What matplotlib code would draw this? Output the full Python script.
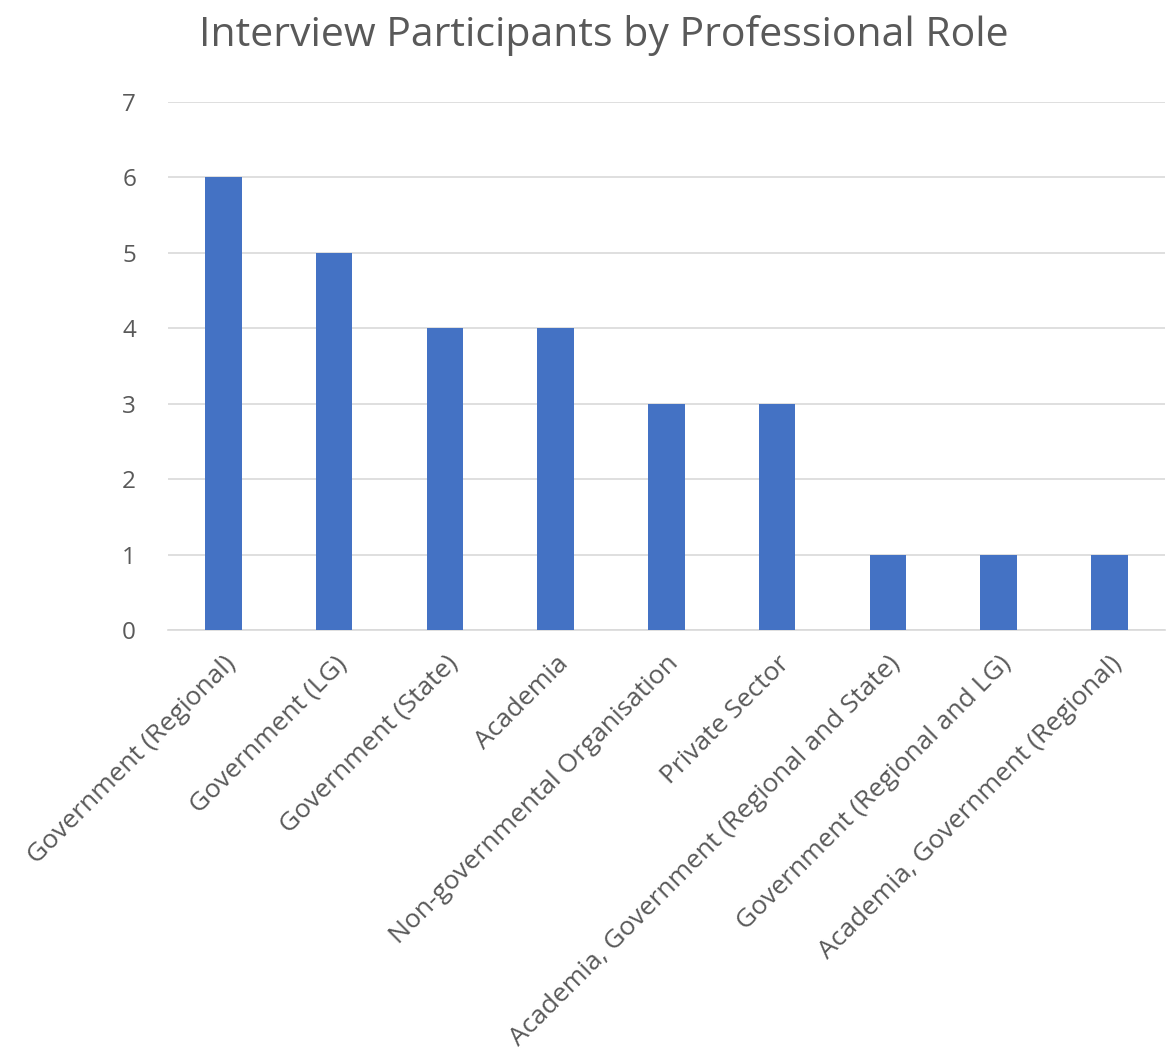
import matplotlib.pyplot as plt
import numpy as np

plt.rcParams['font.family'] = ['Open Sans', 'DejaVu Sans']

roles = [
    "Government (Regional)",
    "Government (LG)",
    "Government (State)",
    "Academia",
    "Non-governmental Organisation",
    "Private Sector",
    "Academia, Government (Regional and State)",
    "Government (Regional and LG)",
    "Academia, Government (Regional)",
]
counts = [6, 5, 4, 4, 3, 3, 1, 1, 1]

grey = '#595959'

fig = plt.figure(figsize=(11.67, 10.61), dpi=100)
ax = fig.add_axes([0.144, 0.406, 0.854, 0.498])

x = np.arange(len(roles))
ax.bar(x, counts, width=0.33, color='#4472C4', zorder=3)

ax.set_xlim(-0.5, len(roles) - 0.5)
ax.set_ylim(0, 7)
ax.set_yticks(range(0, 8))
ax.grid(axis='y', color='#d9d9d9', linewidth=1.2, zorder=0)

for s in ['top', 'right', 'left']:
    ax.spines[s].set_visible(False)
ax.spines['bottom'].set_color('#d9d9d9')
ax.spines['bottom'].set_linewidth(1.2)

ax.set_xticks(x)
ax.set_xticklabels(roles, rotation=45, ha='right', rotation_mode='anchor')
ax.tick_params(axis='both', length=0, colors=grey)
ax.tick_params(axis='x', labelsize=19, pad=15)
ax.tick_params(axis='y', labelsize=17.5, pad=23)

fig.text(0.517, 0.967, "Interview Participants by Professional Role",
         ha='center', va='center', fontsize=29.5, color=grey)

fig.savefig('out.png', dpi=100)
